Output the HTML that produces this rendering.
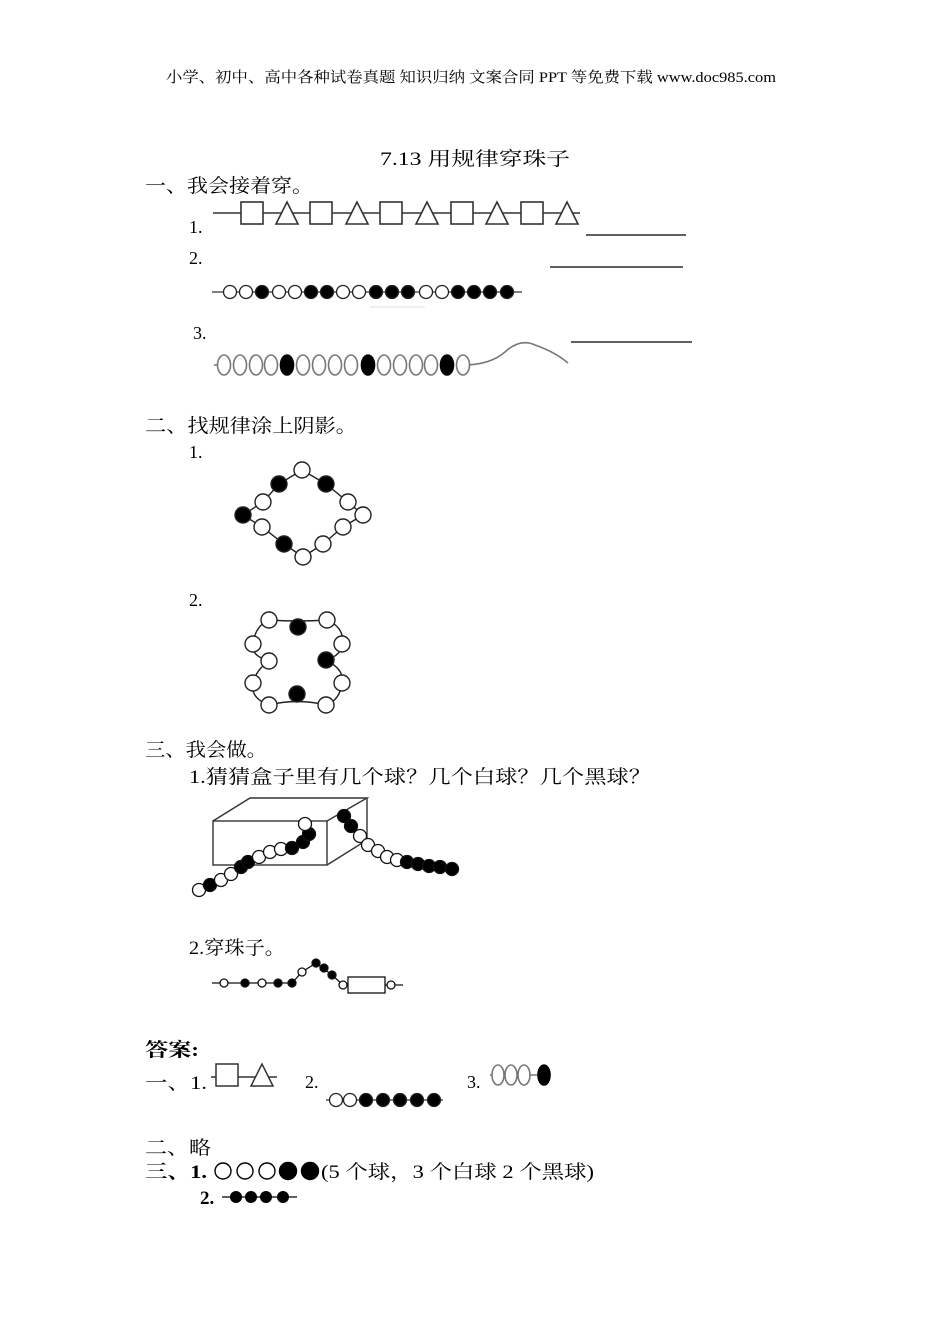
<!DOCTYPE html>
<html><head><meta charset="utf-8"><style>
html,body{margin:0;padding:0;background:#fff;}
svg{display:block;}
text{font-family:"Liberation Serif","Noto Serif CJK SC",serif;fill:#000;}
</style></head><body>
<svg width="950" height="1344" viewBox="0 0 950 1344" xmlns="http://www.w3.org/2000/svg">
<text x="166" y="82" font-size="15" textLength="610" lengthAdjust="spacingAndGlyphs">小学、初中、高中各种试卷真题 知识归纳 文案合同 PPT 等免费下载   www.doc985.com</text>
<text x="380" y="165" font-size="19" textLength="190" lengthAdjust="spacingAndGlyphs">7.13 用规律穿珠子</text>
<text x="145" y="192" font-size="19" textLength="168" lengthAdjust="spacingAndGlyphs">一、我会接着穿。</text>

<text x="189" y="233" font-size="18">1.</text>
<g stroke="#333" stroke-width="1.6" fill="#fff">
<line x1="213" y1="213" x2="580" y2="213"/>
<rect x="241" y="202" width="22" height="22"/><rect x="310" y="202" width="22" height="22"/><rect x="380" y="202" width="22" height="22"/><rect x="451" y="202" width="22" height="22"/><rect x="521" y="202" width="22" height="22"/>
<polygon points="287,202 276,224 298,224"/><polygon points="357,202 346,224 368,224"/><polygon points="427,202 416,224 438,224"/><polygon points="497,202 486,224 508,224"/><polygon points="567,202 556,224 578,224"/>
</g>
<line x1="586" y1="235" x2="686" y2="235" stroke="#000" stroke-width="1.2"/>

<text x="189" y="264" font-size="18">2.</text>
<line x1="550" y1="267" x2="683" y2="267" stroke="#000" stroke-width="1.2"/>
<line x1="212" y1="292" x2="522" y2="292" stroke="#333" stroke-width="1.3"/>
<g stroke="#222" stroke-width="1.3">
<circle cx="230" cy="292" r="6.5" fill="#fff"/><circle cx="246" cy="292" r="6.5" fill="#fff"/><circle cx="262" cy="292" r="6.5" fill="#000"/>
<circle cx="279" cy="292" r="6.5" fill="#fff"/><circle cx="295" cy="292" r="6.5" fill="#fff"/><circle cx="311" cy="292" r="6.5" fill="#000"/><circle cx="327" cy="292" r="6.5" fill="#000"/>
<circle cx="343" cy="292" r="6.5" fill="#fff"/><circle cx="359" cy="292" r="6.5" fill="#fff"/><circle cx="376" cy="292" r="6.5" fill="#000"/><circle cx="392" cy="292" r="6.5" fill="#000"/><circle cx="408" cy="292" r="6.5" fill="#000"/>
<circle cx="426" cy="292" r="6.5" fill="#fff"/><circle cx="442" cy="292" r="6.5" fill="#fff"/><circle cx="458" cy="292" r="6.5" fill="#000"/><circle cx="474" cy="292" r="6.5" fill="#000"/><circle cx="490" cy="292" r="6.5" fill="#000"/><circle cx="507" cy="292" r="6.5" fill="#000"/>
</g>
<line x1="370" y1="307" x2="425" y2="307" stroke="#ddd" stroke-width="1"/>

<text x="193" y="339" font-size="18">3.</text>
<line x1="571" y1="342" x2="692" y2="342" stroke="#000" stroke-width="1.2"/>
<path d="M214 365 L224 365 M463 365 Q490 365 505 352 Q520 338 535 345 Q555 352 568 363" stroke="#777" stroke-width="1.6" fill="none"/>
<g stroke="#777" stroke-width="1.6" fill="#fff">
<ellipse cx="224" cy="365" rx="6.5" ry="10"/><ellipse cx="240" cy="365" rx="6.5" ry="10"/><ellipse cx="256" cy="365" rx="6.5" ry="10"/><ellipse cx="271" cy="365" rx="6.5" ry="10"/>
<ellipse cx="287" cy="365" rx="6.5" ry="10" fill="#000" stroke="#000"/>
<ellipse cx="303" cy="365" rx="6.5" ry="10"/><ellipse cx="319" cy="365" rx="6.5" ry="10"/><ellipse cx="335" cy="365" rx="6.5" ry="10"/><ellipse cx="351" cy="365" rx="6.5" ry="10"/>
<ellipse cx="368" cy="365" rx="6.5" ry="10" fill="#000" stroke="#000"/>
<ellipse cx="384" cy="365" rx="6.5" ry="10"/><ellipse cx="400" cy="365" rx="6.5" ry="10"/><ellipse cx="416" cy="365" rx="6.5" ry="10"/><ellipse cx="431" cy="365" rx="6.5" ry="10"/>
<ellipse cx="447" cy="365" rx="6.5" ry="10" fill="#000" stroke="#000"/>
<ellipse cx="463" cy="365" rx="6.5" ry="10"/>
</g>

<text x="145" y="432" font-size="19" textLength="212" lengthAdjust="spacingAndGlyphs">二、找规律涂上阴影。</text>
<text x="189" y="458" font-size="18">1.</text>
<g stroke="#222" stroke-width="1.4">
<polygon points="302,470 326,484 348,502 363,515 343,527 323,544 303,557 284,544 262,527 243,515 263,502 279,484" fill="none"/>
<circle cx="302" cy="470" r="8" fill="#fff"/><circle cx="279" cy="484" r="8" fill="#000"/><circle cx="326" cy="484" r="8" fill="#000"/>
<circle cx="263" cy="502" r="8" fill="#fff"/><circle cx="348" cy="502" r="8" fill="#fff"/><circle cx="243" cy="515" r="8" fill="#000"/>
<circle cx="363" cy="515" r="8" fill="#fff"/><circle cx="262" cy="527" r="8" fill="#fff"/><circle cx="343" cy="527" r="8" fill="#fff"/>
<circle cx="284" cy="544" r="8" fill="#000"/><circle cx="323" cy="544" r="8" fill="#fff"/><circle cx="303" cy="557" r="8" fill="#fff"/>
</g>

<text x="189" y="606" font-size="18">2.</text>
<g stroke="#222" stroke-width="1.4">
<path d="M269 620 Q298 622 327 620 Q345 628 342 644 Q342 655 326 660 Q345 670 342 683 Q340 700 326 705 Q297 698 269 705 Q250 698 253 683 Q256 670 269 661 Q250 655 253 644 Q255 626 269 620 Z" fill="none"/>
<circle cx="269" cy="620" r="8" fill="#fff"/><circle cx="298" cy="627" r="8" fill="#000"/><circle cx="327" cy="620" r="8" fill="#fff"/>
<circle cx="253" cy="644" r="8" fill="#fff"/><circle cx="342" cy="644" r="8" fill="#fff"/><circle cx="269" cy="661" r="8" fill="#fff"/>
<circle cx="326" cy="660" r="8" fill="#000"/><circle cx="253" cy="683" r="8" fill="#fff"/><circle cx="342" cy="683" r="8" fill="#fff"/>
<circle cx="269" cy="705" r="8" fill="#fff"/><circle cx="297" cy="694" r="8" fill="#000"/><circle cx="326" cy="705" r="8" fill="#fff"/>
</g>

<text x="145" y="756" font-size="19" textLength="122" lengthAdjust="spacingAndGlyphs">三、我会做。</text>
<text x="189" y="783" font-size="19" textLength="462" lengthAdjust="spacingAndGlyphs">1.猜猜盒子里有几个球？几个白球？几个黑球？</text>

<g stroke="#333" stroke-width="1.4" fill="none">
<rect x="213" y="821" width="114" height="44"/>
<polyline points="213,821 250,798 367,798 327,821"/>
<polyline points="367,798 367,840 327,865"/>
</g>
<g stroke="#111" stroke-width="1.3">
<circle cx="199" cy="890" r="6.5" fill="#fff"/><circle cx="210" cy="885" r="6.5" fill="#000"/><circle cx="221" cy="880" r="6.5" fill="#fff"/><circle cx="231" cy="874" r="6.5" fill="#fff"/>
<circle cx="241" cy="867" r="6.5" fill="#000"/><circle cx="248" cy="862" r="6.5" fill="#000"/><circle cx="259" cy="857" r="6.5" fill="#fff"/><circle cx="270" cy="852" r="6.5" fill="#fff"/>
<circle cx="281" cy="849" r="6.5" fill="#fff"/><circle cx="292" cy="848" r="6.5" fill="#000"/><circle cx="303" cy="842" r="6.5" fill="#000"/><circle cx="309" cy="834" r="6.5" fill="#000"/><circle cx="305" cy="824" r="6.5" fill="#fff"/>
<circle cx="344" cy="816" r="6.5" fill="#000"/><circle cx="351" cy="826" r="6.5" fill="#000"/><circle cx="360" cy="836" r="6.5" fill="#fff"/><circle cx="368" cy="845" r="6.5" fill="#fff"/>
<circle cx="378" cy="851" r="6.5" fill="#fff"/><circle cx="387" cy="857" r="6.5" fill="#fff"/><circle cx="397" cy="860" r="6.5" fill="#fff"/><circle cx="407" cy="862" r="6.5" fill="#000"/>
<circle cx="418" cy="864" r="6.5" fill="#000"/><circle cx="429" cy="866" r="6.5" fill="#000"/><circle cx="440" cy="867" r="6.5" fill="#000"/><circle cx="452" cy="869" r="6.5" fill="#000"/>
</g>

<text x="189" y="954" font-size="19" textLength="96" lengthAdjust="spacingAndGlyphs">2.穿珠子。</text>
<g stroke="#111" stroke-width="1.3">
<polyline points="212,983 292,983 302,972 316,963 332,975 343,985 348,985" fill="none"/>
<line x1="385" y1="985" x2="403" y2="985"/>
<circle cx="224" cy="983" r="4" fill="#fff"/><circle cx="245" cy="983" r="4" fill="#000"/><circle cx="262" cy="983" r="4" fill="#fff"/><circle cx="278" cy="983" r="4" fill="#000"/><circle cx="292" cy="983" r="4" fill="#000"/>
<circle cx="302" cy="972" r="4" fill="#fff"/><circle cx="316" cy="963" r="4" fill="#000"/><circle cx="324" cy="968" r="4" fill="#000"/><circle cx="332" cy="975" r="4" fill="#000"/><circle cx="343" cy="985" r="4" fill="#fff"/>
<rect x="348" y="977" width="37" height="16" fill="#fff"/><circle cx="391" cy="985" r="4" fill="#fff"/>
</g>

<text x="145" y="1056" font-size="19" font-weight="bold" textLength="54" lengthAdjust="spacingAndGlyphs">答案:</text>
<text x="145" y="1089" font-size="19" textLength="62" lengthAdjust="spacingAndGlyphs">一、1.</text>
<g stroke="#333" stroke-width="1.5" fill="#fff">
<line x1="211" y1="1077" x2="277" y2="1077"/>
<rect x="216" y="1064" width="22" height="22"/>
<polygon points="262,1064 251,1086 273,1086"/>
</g>
<text x="305" y="1088" font-size="18">2.</text>
<line x1="326" y1="1100" x2="443" y2="1100" stroke="#333" stroke-width="1.3"/>
<g stroke="#222" stroke-width="1.3">
<circle cx="336" cy="1100" r="6.5" fill="#fff"/><circle cx="350" cy="1100" r="6.5" fill="#fff"/>
<circle cx="366" cy="1100" r="6.5" fill="#000"/><circle cx="383" cy="1100" r="6.5" fill="#000"/><circle cx="400" cy="1100" r="6.5" fill="#000"/><circle cx="417" cy="1100" r="6.5" fill="#000"/><circle cx="434" cy="1100" r="6.5" fill="#000"/>
</g>
<text x="467" y="1088" font-size="18">3.</text>
<g stroke="#777" stroke-width="1.6" fill="#fff">
<line x1="490" y1="1075" x2="537" y2="1075"/>
<ellipse cx="498" cy="1075" rx="6" ry="10"/><ellipse cx="511" cy="1075" rx="6" ry="10"/><ellipse cx="524" cy="1075" rx="6" ry="10"/>
<ellipse cx="544" cy="1075" rx="6" ry="10" fill="#000" stroke="#000"/>
</g>

<text x="145" y="1154" font-size="19" textLength="66" lengthAdjust="spacingAndGlyphs">二、略</text>
<text x="145" y="1178" font-size="19" font-weight="bold" textLength="62" lengthAdjust="spacingAndGlyphs">三、1.</text>
<g stroke="#000" stroke-width="1.4">
<circle cx="223" cy="1171" r="8" fill="#fff"/><circle cx="245" cy="1171" r="8" fill="#fff"/><circle cx="267" cy="1171" r="8" fill="#fff"/>
<circle cx="288" cy="1171" r="8.5" fill="#000"/><circle cx="310" cy="1171" r="8.5" fill="#000"/>
</g>
<text x="321" y="1178" font-size="19" textLength="273" lengthAdjust="spacingAndGlyphs">(5 个球，3 个白球 2 个黑球)</text>
<text x="200" y="1204" font-size="19" font-weight="bold">2.</text>
<line x1="222" y1="1197" x2="297" y2="1197" stroke="#000" stroke-width="1.3"/>
<circle cx="236" cy="1197" r="6" fill="#000"/><circle cx="251" cy="1197" r="6" fill="#000"/><circle cx="266" cy="1197" r="6" fill="#000"/><circle cx="283" cy="1197" r="6" fill="#000"/>
</svg>
</body></html>
